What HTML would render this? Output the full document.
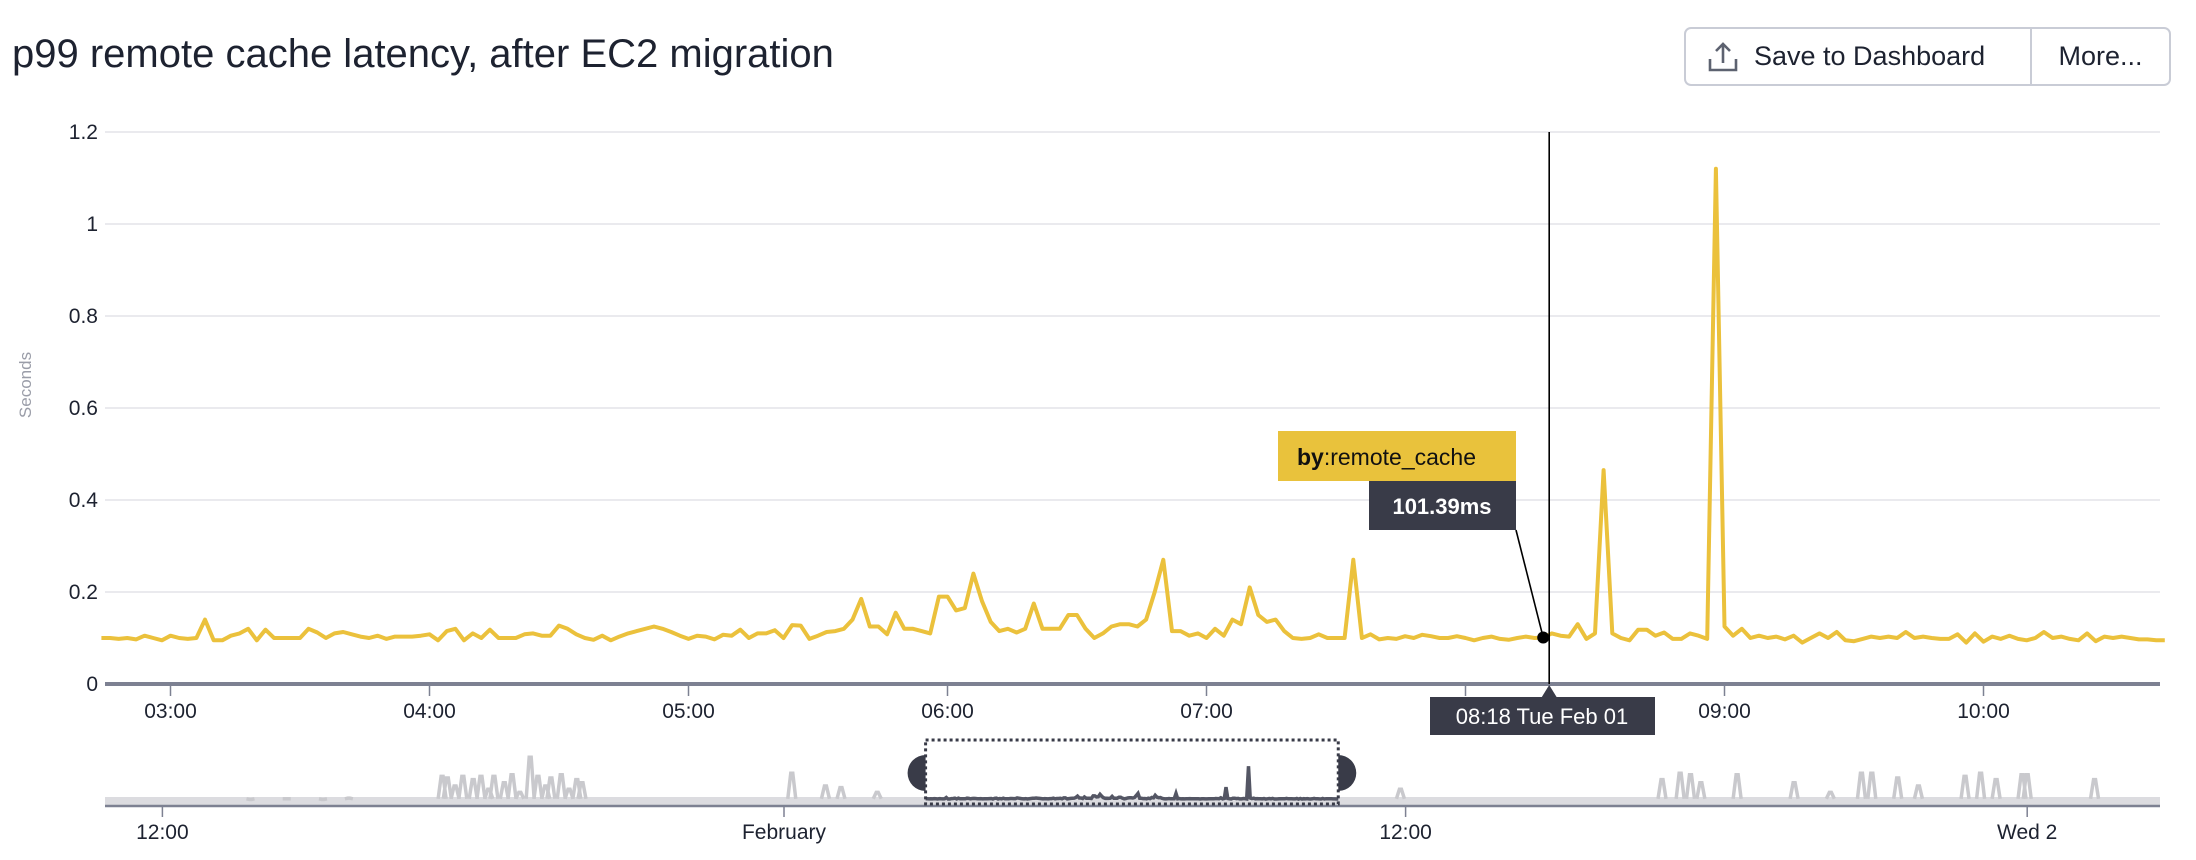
<!DOCTYPE html>
<html><head><meta charset="utf-8">
<style>
html,body{margin:0;padding:0;background:#fff;}
body{width:2196px;height:860px;overflow:hidden;position:relative;font-family:"Liberation Sans",sans-serif;color:#1d2230;}
#title{position:absolute;left:12px;top:32px;font-size:40px;letter-spacing:0px;white-space:nowrap;}
#btns{position:absolute;left:1684px;top:27px;width:483px;height:55px;border:2px solid #c9ccd6;border-radius:7px;display:flex;font-size:27px;}
#btns div{display:flex;align-items:center;}
#save{width:346px;border-right:2px solid #c9ccd6;padding-left:22px;box-sizing:border-box;}
#more{flex:1;justify-content:center;}
svg{position:absolute;left:0;top:0;}
</style></head>
<body>
<div id="title">p99 remote cache latency, after EC2 migration</div>
<div id="btns">
 <div id="save">
  <svg style="position:static;margin-right:16px" width="30" height="32" viewBox="0 0 30 32"><path d="M2 18 V29 H28 V18 M15 22 V3 M8 10 L15 3 L22 10" fill="none" stroke="#5d6270" stroke-width="2.6"/></svg>
  Save to Dashboard</div>
 <div id="more">More...</div>
</div>
<svg id="chart" width="2196" height="860"></svg>
<script>
const yTicks=[0,0.2,0.4,0.6,0.8,1,1.2];
const yTickLabels=["0","0.2","0.4","0.6","0.8","1","1.2"];
const xTickHours=[3,4,5,6,7,8,9,10];
const xTickLabels=["03:00","04:00","05:00","06:00","07:00","08:00","09:00","10:00"];
const startMinute=164; // 02:44, 2-minute interval
const latency=[0.10,0.10,0.098,0.10,0.097,0.105,0.10,0.095,
0.105,0.10,0.098,0.10,0.14,0.095,0.095,0.105,0.11,0.12,0.095,0.118,0.10,0.10,0.10,0.10,0.12,0.112,0.10,0.11,0.113,0.108,0.103,0.10,0.105,0.098,0.103,0.103,0.103,0.105,
0.108,0.095,0.115,0.12,0.095,0.11,0.10,0.118,0.10,0.10,0.10,0.108,0.11,0.105,0.105,0.127,0.12,0.108,0.10,0.096,0.105,0.095,0.103,0.11,0.115,0.12,0.125,0.12,0.113,0.105,
0.098,0.105,0.103,0.097,0.107,0.105,0.118,0.10,0.11,0.11,0.117,0.10,0.128,0.127,0.098,0.105,0.113,0.115,0.12,0.14,0.185,0.125,0.125,0.108,0.155,0.12,0.12,0.115,0.11,0.19,
0.19,0.16,0.165,0.24,0.18,0.135,0.115,0.12,0.112,0.12,0.175,0.12,0.12,0.12,0.15,0.15,0.12,0.10,0.11,0.125,0.13,0.13,0.125,0.14,0.2,0.27,0.115,0.115,0.105,0.11,
0.10,0.12,0.105,0.14,0.13,0.21,0.15,0.135,0.14,0.115,0.10,0.098,0.10,0.108,0.10,0.10,0.10,0.27,0.10,0.108,0.097,0.10,0.098,0.104,0.10,0.107,0.104,0.10,0.10,0.104,
0.10,0.095,0.10,0.103,0.098,0.096,0.10,0.103,0.10,0.101,0.11,0.105,0.103,0.13,0.098,0.11,0.465,0.11,0.10,0.095,0.118,0.118,0.105,0.112,0.098,0.098,0.11,0.105,0.098,1.12,
0.125,0.105,0.12,0.10,0.105,0.10,0.103,0.097,0.105,0.09,0.10,0.11,0.10,0.113,0.095,0.093,0.098,0.103,0.10,0.103,0.10,0.113,0.10,0.103,0.10,0.098,0.098,0.108,0.09,0.11,
0.092,0.103,0.098,0.105,0.098,0.095,0.10,0.113,0.10,0.103,0.098,0.095,0.11,0.093,0.103,0.10,0.103,0.10,0.097,0.097,0.095,0.095];
const hoverIndex=9+158;
const hoverValueLabel="101.39ms";
const hoverTimeLabel="08:18 Tue Feb 01";
const navTickHours=[-12,0,12,24];
const navTickLabels=["12:00","February","12:00","Wed 2"];
const navSpikeHours=[-8.4,-10.3,-9.6,-8.9,-6.6,-6.5,-6.35,-6.2,-6.0,-5.85,-5.7,-5.6,-5.4,-5.25,-5.1,-4.9,-4.75,-4.6,-4.5,-4.3,-4.15,-4.0,-3.9,0.15,0.8,1.1,1.8,11.9,16.95,17.3,17.5,17.7,18.4,19.5,20.2,20.8,21.0,21.5,21.9,22.8,23.1,23.4,23.9,24.0,25.3];
const navSpikeValues=[0.12,0.08,0.1,0.08,0.8,0.75,0.5,0.8,0.7,0.8,0.4,0.8,0.6,0.85,0.3,1.4,0.8,0.5,0.75,0.85,0.4,0.7,0.6,0.9,0.5,0.45,0.3,0.4,0.7,0.9,0.85,0.6,0.85,0.6,0.3,0.9,0.9,0.75,0.5,0.8,0.9,0.7,0.85,0.85,0.7];

const NS="http://www.w3.org/2000/svg";
const svg=document.getElementById('chart');
const L=105,R=2160,Y0=684,YT=132;
const y=v=>Y0-(v/1.2)*(Y0-YT);
const xMin=m=>170.5+(m-180)*259/60;
const nx=h=>784+h*51.8;
const NB=802, ny=v=>NB-v*32;
function el(t,a,p){const e=document.createElementNS(NS,t);for(const k in a)e.setAttribute(k,a[k]);(p||svg).appendChild(e);return e;}
function txt(s,a){const e=el('text',a);e.textContent=s;return e;}

yTicks.forEach((v,i)=>{
 if(v>0){const g=el('line',{x1:L,x2:R,y1:y(v),y2:y(v),stroke:'#e3e4e8','stroke-width':1.5});
 
 }
 const t=txt(yTickLabels[i],{x:98,y:y(v)+7,'text-anchor':'end','font-size':21,fill:'#1d2230','font-family':'Liberation Sans, sans-serif'});
 
 
});
const yt=txt('Seconds',{x:0,y:0,transform:'translate(31,385) rotate(-90)','text-anchor':'middle','font-size':17,fill:'#9a9da8'});



const ax=el('line',{x1:L,x2:R,y1:Y0,y2:Y0,stroke:'#7d8192','stroke-width':4});


xTickHours.forEach((h,i)=>{
 const X=xMin(h*60);
 el('line',{x1:X,x2:X,y1:Y0,y2:Y0+12,stroke:'#7d8192','stroke-width':1.5});
 const t=txt(xTickLabels[i],{x:X,y:718,'text-anchor':'middle','font-size':21,fill:'#1d2230'});
 
 
});

let d='';
latency.forEach((v,i)=>{d+=(i?'L':'M')+xMin(startMinute+2*i).toFixed(1)+' '+y(v).toFixed(1);});
const line=el('path',{d:d,fill:'none',stroke:'#ebc13c','stroke-width':4,'stroke-linejoin':'round'});



// hover
const hx=xMin(startMinute+2*hoverIndex), hy=y(latency[hoverIndex]);
const cx=hx+6;
const vl=el('line',{x1:cx,x2:cx,y1:YT,y2:Y0,stroke:'#000','stroke-width':1.6});


el('line',{x1:1516,y1:530,x2:hx,y2:hy,stroke:'#000','stroke-width':1.6});
const dot=el('circle',{cx:hx,cy:hy,r:6,fill:'#000'});


const tb=el('rect',{x:1278,y:431,width:238,height:50,fill:'#e9c23c'});


const tt=el('text',{x:1297,y:465,'font-size':23,fill:'#111'});
const b=el('tspan',{'font-weight':'bold'},tt);b.textContent='by';
const r2=el('tspan',{},tt);r2.textContent=':remote_cache';
const vb=el('rect',{x:1369,y:481,width:147,height:49,fill:'#393b48'});


txt(hoverValueLabel,{x:1442,y:514,'text-anchor':'middle','font-size':22,'font-weight':'bold',fill:'#fff'});
el('path',{d:`M${cx-8} 698 L${cx} 685 L${cx+8} 698 Z`,fill:'#393b48'});
const tl=el('rect',{x:1430,y:697,width:225,height:38,fill:'#393b48'});


txt(hoverTimeLabel,{x:1542,y:724,'text-anchor':'middle','font-size':22,fill:'#fff'});

// navigator
const nav=el('g',{});


el('rect',{x:L,y:797,width:R-L,height:8,fill:'#dcdce0'},nav);
navSpikeHours.forEach((h,i)=>{
 const X=nx(h);
 const s=el('path',{d:`M${X-4} ${ny(0.1)} L${X-1} ${ny(navSpikeValues[i])} L${X+1} ${ny(navSpikeValues[i])} L${X+4} ${ny(0.1)}`,fill:'none',stroke:'#c9c9cd','stroke-width':3.5},nav);
 
 
});
let nd='';
latency.forEach((v,i)=>{const h=(startMinute+2*i)/60;nd+=(i?'L':'M')+nx(h).toFixed(1)+' '+ny(v).toFixed(1);});
const nl=el('path',{d:nd,fill:'none',stroke:'#545664','stroke-width':3.5},nav);


el('line',{x1:L,x2:R,y1:806,y2:806,stroke:'#7d8192','stroke-width':2.5},nav);
navTickHours.forEach((h,i)=>{
 const X=nx(h);
 el('line',{x1:X,x2:X,y1:806,y2:817,stroke:'#7d8192','stroke-width':1.5},nav);
 const t=txt(navTickLabels[i],{x:X,y:839,'text-anchor':'middle','font-size':21,fill:'#1d2230'});
 
 
});
const s0=nx(startMinute/60), s1=nx((startMinute+2*(latency.length-1))/60);
const hl=el('path',{d:`M${s0} 755 A18 18 0 0 0 ${s0} 791 Z`,fill:'#393b48'});


const hr=el('path',{d:`M${s1} 755 A18 18 0 0 1 ${s1} 791 Z`,fill:'#393b48'});


const sel=el('rect',{x:s0,y:740,width:s1-s0,height:64,fill:'none',stroke:'#393b48','stroke-width':3,'stroke-dasharray':'3 3'});


</script>
</body></html>
